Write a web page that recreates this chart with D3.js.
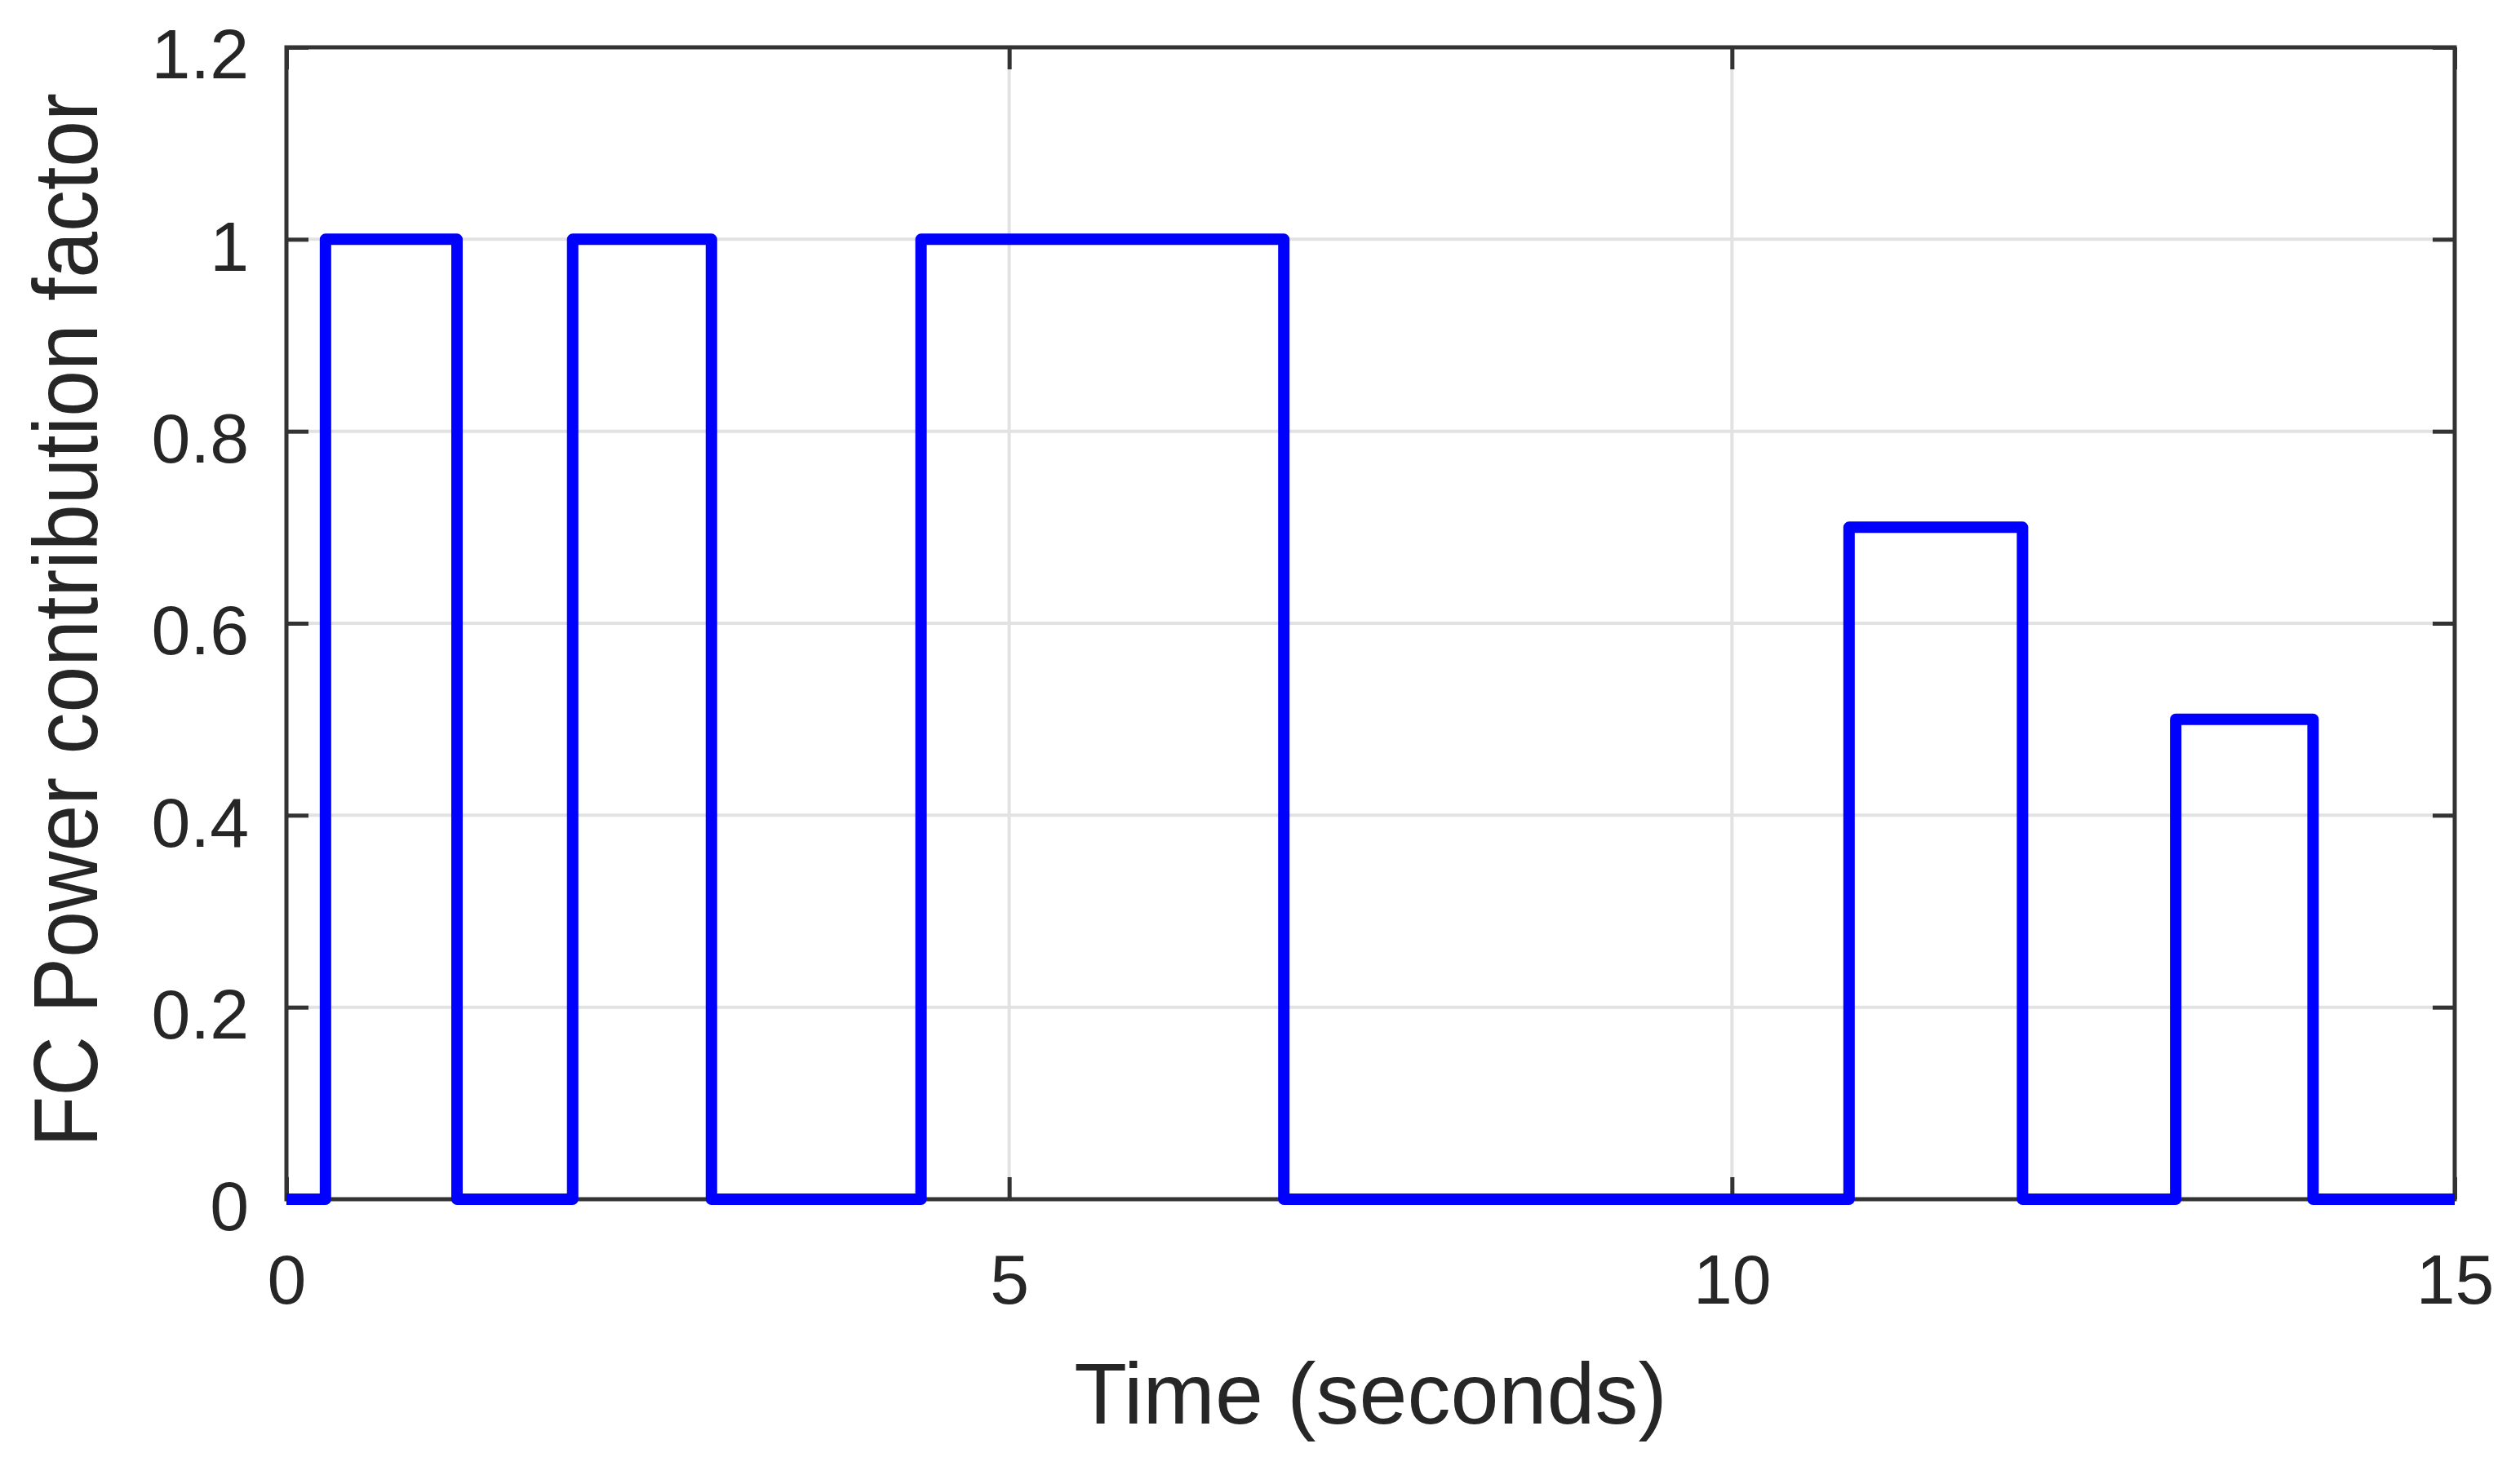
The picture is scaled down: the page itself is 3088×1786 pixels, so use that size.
<!DOCTYPE html>
<html>
<head>
<meta charset="utf-8">
<script src="https://cdn.jsdelivr.net/npm/d3@7"></script>
<style>
   body { margin: 0; background: #ffffff; }
   text { font-family: "Liberation Sans", Arial, Helvetica, sans-serif; fill: #262626; }
</style>
</head>
<body>
<svg></svg>
<script>
// step signal: switching times and the level held after each one
var times  = [0, 0.27, 1.18, 1.98, 2.94, 4.39, 6.90, 10.81, 12.01, 13.07, 14.02, 15];
var levels = [0, 1,    0,    1,    0,    1,    0,    0.7,   0,     0.5,   0,     0];

var xTicks = [0, 5, 10, 15];
var yTicks = [0, 0.2, 0.4, 0.6, 0.8, 1, 1.2];

var xLabel = "Time (seconds)";
var yLabel = "FC Power contribution factor";

var W = 3088, H = 1786;
var margin = {top: 58, right: 80, bottom: 316, left: 351},
    width = W - margin.left - margin.right,
    height = H - margin.top - margin.bottom;

var svg = d3.select("svg")
   .attr("width", W)
   .attr("height", H)
   .append("g")
   .attr("transform", "translate(" + margin.left + "," + margin.top + ")");

var x = d3.scaleLinear().domain([0, 15]).range([0, width]);
var y = d3.scaleLinear().domain([0, 1.2]).range([height, 0]);

var data = times.map(function(t, i) { return {t: t, v: levels[i]}; });

// grid
svg.append("g")
   .attr("class", "grid")
   .selectAll("line.gx")
   .data(xTicks.slice(1, -1))
   .enter().append("line")
   .attr("x1", function(d) { return x(d); })
   .attr("x2", function(d) { return x(d); })
   .attr("y1", 0)
   .attr("y2", height)
   .style("stroke", "#e2e2e2")
   .style("stroke-width", 4);

svg.select("g.grid")
   .selectAll("line.gy")
   .data(yTicks.slice(1, -1))
   .enter().append("line")
   .attr("x1", 0)
   .attr("x2", width)
   .attr("y1", function(d) { return y(d); })
   .attr("y2", function(d) { return y(d); })
   .style("stroke", "#e2e2e2")
   .style("stroke-width", 4);

// axes (ticks point inwards, matlab style box)
var tickLen = 27;
var fmt = function(d) { return d3.format("~g")(d); };

var xAxis = svg.append("g")
   .attr("transform", "translate(0," + height + ")")
   .call(d3.axisBottom(x).tickValues(xTicks).tickFormat(fmt).tickSizeInner(-tickLen).tickSizeOuter(0).tickPadding(67));

var yAxis = svg.append("g")
   .call(d3.axisLeft(y).tickValues(yTicks).tickFormat(fmt).tickSizeInner(-tickLen).tickSizeOuter(0).tickPadding(46));

var xTop = svg.append("g")
   .call(d3.axisTop(x).tickValues(xTicks).tickFormat("").tickSizeInner(-tickLen).tickSizeOuter(0));

var yRight = svg.append("g")
   .attr("transform", "translate(" + width + ",0)")
   .call(d3.axisRight(y).tickValues(yTicks).tickFormat("").tickSizeInner(-tickLen).tickSizeOuter(0));

[xAxis, yAxis, xTop, yRight].forEach(function(a) {
   a.select(".domain").remove();
   a.selectAll(".tick line").style("stroke", "#333333").style("stroke-width", 5);
   a.selectAll(".tick text")
      .style("font-size", "86px")
      .style("font-family", "'Liberation Sans', Arial, sans-serif")
      .attr("fill", "#262626");
});
yAxis.selectAll(".tick text").attr("dy", "0.44em");

// frame
svg.append("rect")
   .attr("x", 0)
   .attr("y", 0)
   .attr("width", width)
   .attr("height", height)
   .style("fill", "none")
   .style("stroke", "#333333")
   .style("stroke-width", 5);

// signal
var line = d3.line()
   .x(function(d) { return x(d.t); })
   .y(function(d) { return y(d.v); })
   .curve(d3.curveStepAfter);

svg.append("path")
   .datum(data)
   .attr("d", line)
   .style("fill", "none")
   .style("stroke", "#0000ff")
   .style("stroke-width", 14)
   .style("stroke-linejoin", "round");

// labels
svg.append("text")
   .attr("x", width / 2)
   .attr("y", 1745 - margin.top)
   .attr("text-anchor", "middle")
   .style("font-size", "106px")
   .text(xLabel);

svg.append("text")
   .attr("transform", "translate(" + (119 - margin.left) + "," + (760 - margin.top) + ") rotate(-90)")
   .attr("text-anchor", "middle")
   .attr("textLength", 1292)
   .attr("lengthAdjust", "spacingAndGlyphs")
   .style("font-size", "112px")
   .text(yLabel);
</script>
</body>
</html>
